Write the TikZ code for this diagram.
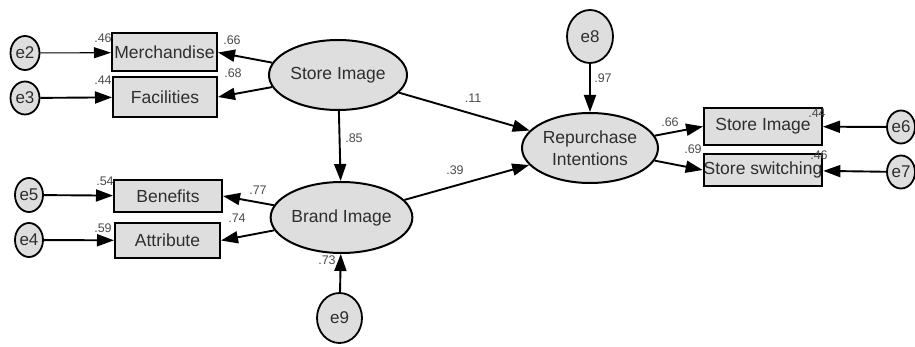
\documentclass[tikz,border=0pt]{standalone}
\usepackage{fontspec}
\setmainfont{Liberation Sans}
\usetikzlibrary{shapes.geometric,arrows.meta}
\definecolor{boxfill}{HTML}{DEDEDE}
\definecolor{txt}{HTML}{2E2E2E}
\tikzset{
  obs/.style={draw=black, line width=2pt, fill=boxfill, rectangle, inner sep=0pt,
    text=txt, font=\fontsize{17.5}{22}\selectfont},
  lat/.style={draw=black, line width=2pt, fill=boxfill, ellipse, inner sep=0pt,
    text=txt, font=\fontsize{17.5}{22}\selectfont, align=center},
  err/.style={draw=black, line width=1.8pt, fill=boxfill, ellipse, inner sep=0pt,
    text=txt, font=\fontsize{17}{17}\selectfont},
  path/.style={line width=1.9pt, -{Triangle[length=17pt,width=12pt]}},
  thin path/.style={line width=1.1pt, -{Triangle[length=17pt,width=11pt]}},
  coef/.style={text=txt!85, font=\fontsize{12.5}{12.5}\selectfont, inner sep=0pt}
}
\begin{document}
\begin{tikzpicture}[x=1pt,y=-1pt]
\useasboundingbox[fill=white] (0,0) rectangle (915,347);
% error terms
\node[err, minimum width=29pt, minimum height=34pt] (e2) at (25,53) {e2};
\node[err, minimum width=29pt, minimum height=33pt] (e3) at (25,98) {e3};
\node[err, minimum width=28pt, minimum height=34pt] (e5) at (29,195) {e5};
\node[err, minimum width=28pt, minimum height=34pt] (e4) at (29,240) {e4};
\node[err, minimum width=45pt, minimum height=50pt] (e9) at (339.5,318) {e9};
\node[err, minimum width=46pt, minimum height=53pt] (e8) at (590,36.5) {e8};
\node[err, minimum width=28pt, minimum height=33pt] (e6) at (901,127) {e6};
\node[err, minimum width=28pt, minimum height=33pt] (e7) at (901,172) {e7};
% observed
\node[obs, minimum width=105pt, minimum height=38pt] (merch) at (164.5,52.5) {Merchandise};
\node[obs, minimum width=104pt, minimum height=40pt] (fac) at (165,97) {Facilities};
\node[obs, minimum width=108pt, minimum height=32pt] (ben) at (168,196) {Benefits};
\node[obs, minimum width=105pt, minimum height=35pt] (att) at (167.5,240.5) {Attribute};
\node[obs, minimum width=118pt, minimum height=37pt] (sib) at (763,126.5) {Store Image};
\node[obs, minimum width=118pt, minimum height=32pt] (ssb) at (763,170) {Store switching};
% latent
\node[lat, minimum width=138pt, minimum height=70pt] (SI) at (338,75) {Store Image};
\node[lat, minimum width=137pt, minimum height=71pt] (BI) at (341.5,217.5) {Brand Image};
\node[lat, minimum width=136pt, minimum height=70pt] (RI) at (590,148) {Repurchase\\Intentions};
% paths
\draw[thin path] (e2) -- (merch);
\draw[path] (e3) -- (fac);
\draw[path] (e5) -- (ben);
\draw[path] (e4) -- (att);
\draw[path] (SI) -- (merch.east);
\draw[path] (SI) -- (fac.east);
\draw[path] (SI) -- (BI);
\draw[path] (SI) -- (RI);
\draw[path] (BI) -- (RI);
\draw[path] (BI) -- (ben.east);
\draw[path] (BI) -- (att.east);
\draw[path] (e9) -- (BI);
\draw[path] (e8) -- (RI);
\draw[path] (RI) -- (sib.west);
\draw[path] (RI) -- (ssb.west);
\draw[path] (e6) -- (sib);
\draw[path] (e7) -- (ssb);
% coefficients
\node[coef] (c1) at (103,38) {.46};
\node[coef] (c2) at (103,80) {.44};
\node[coef] (c3) at (105,181) {.54};
\node[coef] (c4) at (103,228) {.59};
\node[coef] (c5) at (232,40) {.66};
\node[coef] (c6) at (233,73) {.68};
\node[coef] (c7) at (354,138) {.85};
\node[coef] (c8) at (258,190) {.77};
\node[coef] (c9) at (237,218) {.74};
\node[coef] (c10) at (327,260) {.73};
\node[coef] (c11) at (473,98) {.11};
\node[coef] (c12) at (455,170) {.39};
\node[coef] (c13) at (603,78) {.97};
\node[coef] (c14) at (670,122) {.66};
\node[coef] (c15) at (693,149) {.69};
\node[coef] (c16) at (817,113) {.44};
\node[coef] (c17) at (819,155) {.46};
\end{tikzpicture}
\end{document}
